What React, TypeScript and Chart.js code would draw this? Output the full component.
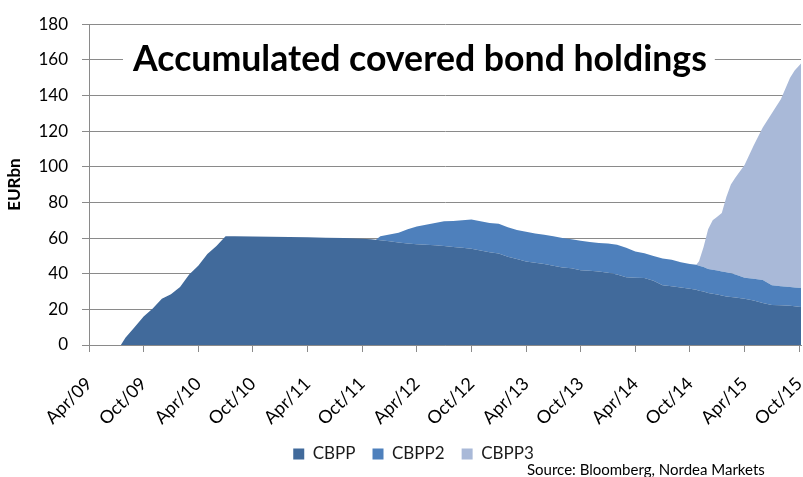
import React, { useEffect, useRef } from "react";
import { Chart, registerables } from "chart.js";
Chart.register(...registerables);

const chartTitle = "Accumulated covered bond holdings";
const yTitle = "EURbn";
const sourceText = "Source: Bloomberg, Nordea Markets";
const seriesNames = ["CBPP", "CBPP2", "CBPP3"];
const tickLabels = ["Apr/09", "Oct/09", "Apr/10", "Oct/10", "Apr/11", "Oct/11", "Apr/12", "Oct/12", "Apr/13", "Oct/13", "Apr/14", "Oct/14", "Apr/15", "Oct/15"];

// months elapsed since April 2009
const months = [3.5, 4, 5, 6, 7, 8, 9, 10, 11, 12, 13, 14, 15, 16, 18, 20, 22, 24, 26, 28, 30, 31, 31.5, 32, 33, 34, 35, 36, 37, 38, 39, 40, 41, 42, 43, 44, 45, 46, 47, 48, 49, 50, 51, 52, 53, 54, 55, 56, 57, 58, 59, 60, 61, 62, 63, 64, 65, 66, 66.7, 67, 67.5, 68, 68.5, 69, 69.5, 70, 70.5, 71, 72, 73, 74, 75, 76, 77, 77.5, 78.2];
const cbpp = [0, 4, 10, 16, 20.5, 26, 28.5, 32.5, 39.5, 44.5, 51, 55.5, 61, 61, 60.9, 60.8, 60.6, 60.4, 60.2, 60, 59.6, 59.3, 59.1, 58.8, 58.2, 57.5, 57, 56.6, 56.3, 56, 55.6, 55, 54.6, 54, 53, 52, 51.3, 49.5, 48.2, 46.8, 46.2, 45.5, 44.5, 43.5, 43, 42, 41.6, 41.3, 40.5, 39.5, 38, 37.8, 37.6, 36, 33.5, 32.9, 32.2, 31.5, 31, 30.5, 30, 29.2, 28.8, 28.4, 27.8, 27.2, 26.9, 26.6, 26, 25, 23.5, 22.5, 22.3, 22, 21.7, 21.3];
const cbpp2 = [0, 0, 0, 0, 0, 0, 0, 0, 0, 0, 0, 0, 0, 0, 0, 0, 0, 0, 0, 0, 0, 0, 0, 2.2, 3.8, 5.5, 8, 9.9, 11.2, 12.5, 13.8, 14.6, 15.4, 16.4, 16.5, 16.5, 16.7, 16.5, 16.3, 16.7, 16.4, 16.3, 16.5, 16.5, 16.3, 16.5, 16.2, 16, 16.5, 16.8, 16.5, 14.7, 13.9, 14, 15, 14.9, 14.3, 14, 14, 14, 13.8, 13.4, 13.4, 13.4, 13.5, 13.6, 13.3, 12.9, 11.8, 12.2, 13, 11, 10.7, 10.5, 10.6, 10.7];
const cbpp3 = [0, 0, 0, 0, 0, 0, 0, 0, 0, 0, 0, 0, 0, 0, 0, 0, 0, 0, 0, 0, 0, 0, 0, 0, 0, 0, 0, 0, 0, 0, 0, 0, 0, 0, 0, 0, 0, 0, 0, 0, 0, 0, 0, 0, 0, 0, 0, 0, 0, 0, 0, 0, 0, 0, 0, 0, 0, 0, 0, 2.5, 11.2, 22.4, 27.8, 30.2, 32.7, 42.2, 49.8, 54.5, 63.2, 74.8, 85.5, 96.5, 105, 117.5, 121.7, 126];

const colors = ["#416A9B", "#4E80BC", "#A9B9D8"];
const FONT = "Lato, 'Open Sans', sans-serif";

export default function App() {
  const ref = useRef<HTMLCanvasElement | null>(null);
  useEffect(() => {
    if (!ref.current) return;
    const series = [cbpp, cbpp2, cbpp3];
    const overlay = {
      id: "overlay",
      afterLayout(chart: any) {
        if (chart.legend) {
          chart.legend.left += 13;
          chart.legend.right += 13;
        }
      },
      afterDraw(chart: any) {
        const { ctx, chartArea, scales } = chart;
        ctx.save();
        const yMid = scales.y.getPixelForValue(160);
        let size = 32;
        ctx.font = `bold ${size}px ${FONT}`;
        const w0 = ctx.measureText(chartTitle).width;
        size = (size * 574) / w0;
        ctx.font = `bold ${size}px ${FONT}`;
        const w = ctx.measureText(chartTitle).width;
        const tx = chartArea.left + 44;
        ctx.fillStyle = "#ffffff";
        ctx.fillRect(tx - 10, yMid - 20, w + 18, 40);
        ctx.fillStyle = "#000000";
        ctx.textBaseline = "alphabetic";
        ctx.textAlign = "left";
        ctx.fillText(chartTitle, tx, yMid + 11.5);
        ctx.font = `15px ${FONT}`;
        ctx.fillStyle = "#000000";
        ctx.textBaseline = "middle";
        ctx.fillText(sourceText, 527, 470);
        ctx.restore();
      },
    };
    const chart = new Chart(ref.current, {
      type: "line",
      data: {
        datasets: seriesNames.map((name, k) => ({
          label: name,
          data: months.map((m, i) => ({ x: m, y: series[k][i] })),
          backgroundColor: colors[k],
          borderColor: colors[k],
          borderWidth: 0,
          pointRadius: 0,
          fill: k === 0 ? "origin" : "-1",
          tension: 0,
        })),
      },
      options: {
        animation: false,
        responsive: false,
        devicePixelRatio: 1,
        layout: { padding: { top: 21, right: 2, bottom: 4.5, left: 0 } },
        plugins: {
          tooltip: { enabled: false },
          legend: {
            position: "bottom",
            labels: {
              boxWidth: 11,
              boxHeight: 11,
              padding: 17,
              color: "#1a1a1a",
              font: { family: FONT, size: 17 },
            },
          },
        },
        scales: {
          x: {
            type: "linear",
            min: 0,
            max: 78.2,
            afterBuildTicks: (axis: any) => {
              axis.ticks = tickLabels.map((_, i) => ({ value: i * 6 }));
            },
            afterFit: (axis: any) => {
              axis.height = 83.5;
              axis.paddingRight = 0;
            },
            ticks: {
              autoSkip: false,
              minRotation: 45,
              maxRotation: 45,
              padding: 21,
              color: "#000000",
              font: { family: FONT, size: 18 },
              callback: (v: any) => tickLabels[Math.round(Number(v) / 6)] ?? "",
            },
            grid: { drawOnChartArea: false, drawTicks: true, tickLength: 7, color: "#8a8a8a" },
            border: { color: "#8a8a8a", width: 1 },
          },
          y: {
            stacked: true,
            min: 0,
            max: 180,
            afterFit: (axis: any) => {
              axis.width = 89;
            },
            ticks: {
              stepSize: 20,
              padding: 14,
              color: "#000000",
              font: { family: FONT, size: 17 },
            },
            title: {
              display: true,
              text: yTitle,
              color: "#000000",
              font: { family: FONT, size: 17, weight: "bold" },
            },
            grid: { color: "#8a8a8a", tickLength: 7 },
            border: { color: "#8a8a8a", width: 1 },
          },
        },
      },
      plugins: [overlay],
    } as any);
    return () => chart.destroy();
  }, []);
  return (
    <div style={{ position: "absolute", left: 0, top: 0, width: 803, height: 477 }}>
      <canvas ref={ref} width={803} height={477} />
    </div>
  );
}
